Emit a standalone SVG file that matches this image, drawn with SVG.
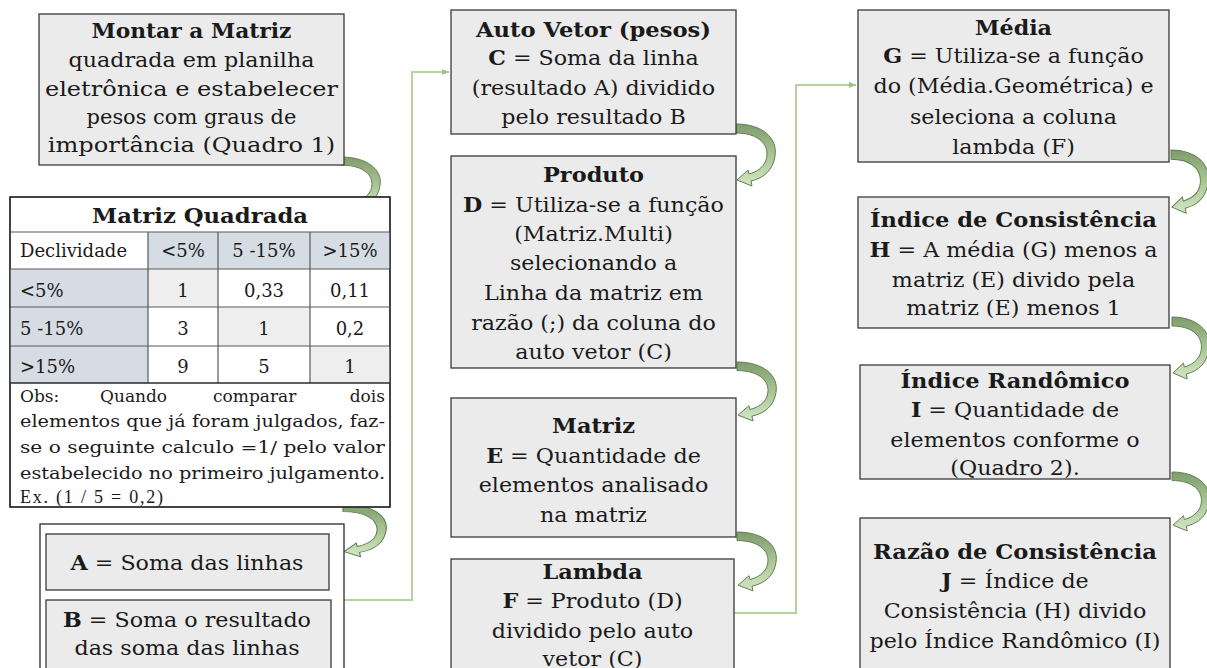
<svg xmlns="http://www.w3.org/2000/svg" width="1207" height="668" viewBox="0 0 1207 668">
<style>
.box{fill:#ebebeb;stroke:#3a3a3a;stroke-width:1.3}
.wbox{fill:#ffffff;stroke:#2a2a2a;stroke-width:1.3}
.t{font-family:"DejaVu Serif","Liberation Serif",serif;font-size:20px;fill:#1a1a1a;text-anchor:middle}
.tb{font-weight:bold}
.tab{font-family:"DejaVu Serif","Liberation Serif",serif;font-size:18px;fill:#1a1a1a}
.c{text-anchor:middle}
.obs{font-family:"DejaVu Serif","Liberation Serif",serif;font-size:17px;fill:#1a1a1a}
.hdr{fill:#d6dce4}
.dg{fill:#eeeeee}
.grid{stroke:#5a5a5a;stroke-width:1.2;fill:none}
.conn{fill:none;stroke:#b5d39f;stroke-width:2}
.ca{fill:url(#cg);stroke:#5e7d50;stroke-width:1;vector-effect:non-scaling-stroke}
</style>
<defs>
<linearGradient id="cg" x1="0" y1="0" x2="0" y2="1">
<stop offset="0" stop-color="#7f9c6c"/>
<stop offset="0.5" stop-color="#a9c594"/>
<stop offset="1" stop-color="#d3e7c4"/>
</linearGradient>
<path id="carrow" d="M0,0 C26,0 42,14 39,32 C37,46 28,54 15,57 L16,62 L1,56 L12,46 L13,50 C24,47 31,40 31,30 C31,18 20,9 0,9 Z"/>
<marker id="ah" markerWidth="8" markerHeight="8" refX="7" refY="4" orient="auto" markerUnits="userSpaceOnUse">
<path d="M0,1 L7,4 L0,7 Z" fill="#9cc285"/>
</marker>
</defs>

<g id="connectors">
<polyline class="conn" points="344,600 412,600 412,72 449,72" marker-end="url(#ah)"/>
<polyline class="conn" points="734,613 796,613 796,85 856,85" marker-end="url(#ah)"/>
<use href="#carrow" class="ca" transform="translate(341,157) scale(1,0.9)"/>
<use href="#carrow" class="ca" transform="translate(343,504) scale(1.1,0.85)"/>
<use href="#carrow" class="ca" transform="translate(736,124)"/>
<use href="#carrow" class="ca" transform="translate(737,362) scale(1,0.95)"/>
<use href="#carrow" class="ca" transform="translate(737,532) scale(1,0.95)"/>
<use href="#carrow" class="ca" transform="translate(1171,150) scale(0.95,1.02)"/>
<use href="#carrow" class="ca" transform="translate(1172,317) scale(0.95,1)"/>
<use href="#carrow" class="ca" transform="translate(1172,472) scale(0.95,0.95)"/>
</g>

<g id="montar">
<rect class="box" x="39" y="14" width="305" height="151"/>
<text class="t tb" x="191.5" y="38" textLength="200" lengthAdjust="spacingAndGlyphs">Montar a Matriz</text>
<g transform="translate(191.5,0) scale(1.11,1)">
<text class="t" y="67">quadrada em planilha</text>
<text class="t" y="96" textLength="264" lengthAdjust="spacingAndGlyphs">eletrônica e estabelecer</text>
<text class="t" y="124" textLength="189" lengthAdjust="spacingAndGlyphs">pesos com graus de</text>
<text class="t" y="152" textLength="259" lengthAdjust="spacingAndGlyphs">importância (Quadro 1)</text>
</g>
</g>

<g id="matriz-quadrada">
<rect class="wbox" x="10" y="197" width="380" height="310"/>
<rect class="hdr" x="148" y="232" width="242" height="37"/>
<rect class="hdr" x="10" y="269" width="138" height="114"/>
<rect class="dg" x="148" y="269" width="70" height="38"/>
<rect class="dg" x="218" y="307" width="92" height="39"/>
<rect class="dg" x="310" y="346" width="80" height="37"/>
<path class="grid" d="M10,232 H390 M10,269 H390 M10,307 H390 M10,346 H390 M148,232 V383 M218,232 V383 M310,232 V383"/>
<path d="M10,383 H390" stroke="#2a2a2a" stroke-width="1.3"/>
<rect x="10" y="197" width="380" height="310" fill="none" stroke="#2a2a2a" stroke-width="1.3"/>
<text class="t tb" x="200" y="223" textLength="216" lengthAdjust="spacingAndGlyphs">Matriz Quadrada</text>
<g class="tab">
<text x="20" y="257">Declividade</text>
<text class="c" x="183" y="257">&lt;5%</text>
<text class="c" x="264" y="257">5 -15%</text>
<text class="c" x="350" y="257">&gt;15%</text>
<text x="20" y="297">&lt;5%</text>
<text class="c" x="183" y="297">1</text>
<text class="c" x="264" y="297">0,33</text>
<text class="c" x="350" y="297">0,11</text>
<text x="20" y="335">5 -15%</text>
<text class="c" x="183" y="335">3</text>
<text class="c" x="264" y="335">1</text>
<text class="c" x="350" y="335">0,2</text>
<text x="20" y="373">&gt;15%</text>
<text class="c" x="183" y="373">9</text>
<text class="c" x="264" y="373">5</text>
<text class="c" x="350" y="373">1</text>
</g>
<g class="obs">
<text x="20" y="402">Obs:</text>
<text x="100" y="402">Quando</text>
<text x="213" y="402">comparar</text>
<text x="385" y="402" text-anchor="end">dois</text>
<text x="20" y="427" textLength="365" lengthAdjust="spacingAndGlyphs">elementos que já foram julgados, faz-</text>
<text x="20" y="453" textLength="365" lengthAdjust="spacingAndGlyphs">se o seguinte calculo =1/ pelo valor</text>
<text x="20" y="479" textLength="365" lengthAdjust="spacingAndGlyphs">estabelecido no primeiro julgamento.</text>
<text x="20" y="503" font-family="Liberation Serif, serif" font-size="18" textLength="143" lengthAdjust="spacing">Ex. (1 / 5 = 0,2)</text>
</g>
</g>

<g id="soma">
<rect class="wbox" x="40" y="524" width="304" height="160"/>
<rect class="box" x="46" y="534" width="283" height="56"/>
<rect class="box" x="46" y="600" width="285" height="80"/>
<g transform="translate(187,0) scale(1.11,1)">
<text class="t" y="570"><tspan class="tb">A</tspan> = Soma das linhas</text>
<text class="t" y="627"><tspan class="tb">B</tspan> = Soma o resultado</text>
<text class="t" y="655">das soma das linhas</text>
</g>
</g>

<g id="auto-vetor">
<rect class="box" x="451" y="10" width="285" height="124"/>
<text class="t tb" x="593.5" y="37" textLength="235" lengthAdjust="spacingAndGlyphs">Auto Vetor (pesos)</text>
<g transform="translate(593.5,0) scale(1.11,1)">
<text class="t" y="65"><tspan class="tb">C</tspan> = Soma da linha</text>
<text class="t" y="95">(resultado A) dividido</text>
<text class="t" y="124">pelo resultado B</text>
</g>
</g>

<g id="produto">
<rect class="box" x="451" y="156" width="285" height="212"/>
<text class="t tb" x="593.5" y="182" textLength="101" lengthAdjust="spacingAndGlyphs">Produto</text>
<g transform="translate(593.5,0) scale(1.11,1)">
<text class="t" y="212"><tspan class="tb">D</tspan> = Utiliza-se a função</text>
<text class="t" y="241">(Matriz.Multi)</text>
<text class="t" y="270">selecionando a</text>
<text class="t" y="300">Linha da matriz em</text>
<text class="t" y="330">razão (;) da coluna do</text>
<text class="t" y="359">auto vetor (C)</text>
</g>
</g>

<g id="matriz">
<rect class="box" x="451" y="398" width="285" height="139"/>
<text class="t tb" x="593.5" y="433" textLength="83" lengthAdjust="spacingAndGlyphs">Matriz</text>
<g transform="translate(593.5,0) scale(1.11,1)">
<text class="t" y="463"><tspan class="tb">E</tspan> = Quantidade de</text>
<text class="t" y="492">elementos analisado</text>
<text class="t" y="522">na matriz</text>
</g>
</g>

<g id="lambda">
<rect class="box" x="451" y="559" width="283" height="125"/>
<text class="t tb" x="592.5" y="579" textLength="100" lengthAdjust="spacingAndGlyphs">Lambda</text>
<g transform="translate(592.5,0) scale(1.11,1)">
<text class="t" y="608"><tspan class="tb">F</tspan> = Produto (D)</text>
<text class="t" y="638">dividido pelo auto</text>
<text class="t" y="666">vetor (C)</text>
</g>
</g>

<g id="media">
<rect class="box" x="858" y="10" width="311" height="152"/>
<text class="t tb" x="1013.5" y="35" textLength="77" lengthAdjust="spacingAndGlyphs">Média</text>
<g transform="translate(1013.5,0) scale(1.11,1)">
<text class="t" y="63"><tspan class="tb">G</tspan> = Utiliza-se a função</text>
<text class="t" y="93">do (Média.Geométrica) e</text>
<text class="t" y="124">seleciona a coluna</text>
<text class="t" y="154">lambda (F)</text>
</g>
</g>

<g id="indice-consistencia">
<rect class="box" x="858" y="197" width="311" height="131"/>
<text class="t tb" x="1013.5" y="227" textLength="287" lengthAdjust="spacingAndGlyphs">Índice de Consistência</text>
<g transform="translate(1013.5,0) scale(1.11,1)">
<text class="t" y="257"><tspan class="tb">H</tspan> = A média (G) menos a</text>
<text class="t" y="287">matriz (E) divido pela</text>
<text class="t" y="315">matriz (E) menos 1</text>
</g>
</g>

<g id="indice-randomico">
<rect class="box" x="860" y="365" width="310" height="114"/>
<text class="t tb" x="1015" y="388" textLength="229" lengthAdjust="spacingAndGlyphs">Índice Randômico</text>
<g transform="translate(1015,0) scale(1.11,1)">
<text class="t" y="417"><tspan class="tb">I</tspan> = Quantidade de</text>
<text class="t" y="447">elementos conforme o</text>
<text class="t" y="475">(Quadro 2).</text>
</g>
</g>

<g id="razao">
<rect class="box" x="860" y="518" width="310" height="166"/>
<text class="t tb" x="1015" y="559" textLength="284" lengthAdjust="spacingAndGlyphs">Razão de Consistência</text>
<g transform="translate(1015,0) scale(1.11,1)">
<text class="t" y="588"><tspan class="tb">J</tspan> = Índice de</text>
<text class="t" y="618">Consistência (H) divido</text>
<text class="t" y="648">pelo Índice Randômico (I)</text>
</g>
</g>
</svg>
